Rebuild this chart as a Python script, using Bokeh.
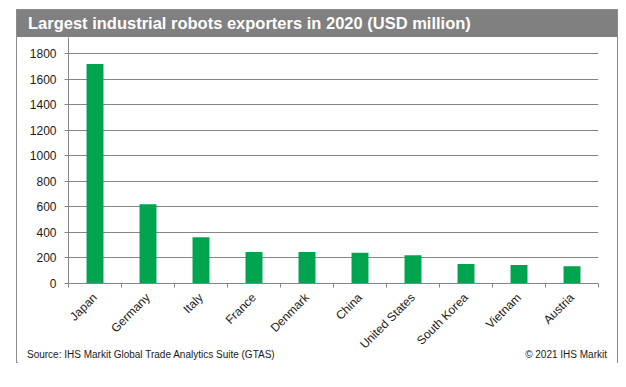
import math
from bokeh.plotting import figure
from bokeh.layouts import column
from bokeh.models import Div, FixedTicker, Range1d, ColumnDataSource
from bokeh.embed import file_html
from bokeh.resources import INLINE

countries = ["Japan", "Germany", "Italy", "France", "Denmark", "China",
             "United States", "South Korea", "Vietnam", "Austria"]
exports = [1717, 620, 362, 247, 247, 240, 222, 152, 144, 135]
y_ticks = [0, 200, 400, 600, 800, 1000, 1200, 1400, 1600, 1800]
title_text = "Largest industrial robots exporters in 2020 (USD million)"
source_text = "Source: IHS Markit Global Trade Analytics Suite (GTAS)"
copyright_text = "\u00a9 2021 IHS Markit"

FONT = "Liberation Sans"
GRID = "#868686"
GREEN = "#00A44F"
TEXT = "#1a1a1a"

centers = [i + 0.5 for i in range(len(countries))]
bounds = [float(i) for i in range(len(countries) + 1)]

src = ColumnDataSource(dict(x=centers, top=exports))

p = figure(width=600, height=332, x_range=Range1d(0, len(countries)),
           y_range=Range1d(0, 1925), output_backend="svg", toolbar_location=None,
           min_border_left=51, min_border_right=19, min_border_top=0,
           min_border_bottom=86, margin=0)
p.outline_line_color = None
p.background_fill_color = "white"
p.border_fill_color = "white"

p.vbar(x="x", top="top", width=0.32, bottom=0, source=src,
       fill_color=GREEN, line_color=None)

# y axis
p.yaxis.ticker = FixedTicker(ticks=y_ticks, minor_ticks=[])
p.yaxis.axis_line_color = GRID
p.yaxis.major_tick_line_color = GRID
p.yaxis.major_tick_out = 4
p.yaxis.major_tick_in = 0
p.yaxis.minor_tick_line_color = None
p.yaxis.major_label_text_font = FONT
p.yaxis.major_label_text_font_size = "12px"
p.yaxis.major_label_text_color = TEXT
p.yaxis.major_label_standoff = 8

p.ygrid.ticker = FixedTicker(ticks=y_ticks)
p.ygrid.grid_line_color = GRID
p.xgrid.grid_line_color = None

# x axis: labels at category centres, tick marks at category boundaries
p.xaxis.ticker = FixedTicker(ticks=centers, minor_ticks=bounds)
p.xaxis.major_label_overrides = {c: n for c, n in zip(centers, countries)}
p.xaxis.major_tick_line_color = None
p.xaxis.minor_tick_line_color = GRID
p.xaxis.minor_tick_out = 4
p.xaxis.minor_tick_in = 0
p.xaxis.axis_line_color = GRID
p.xaxis.major_label_orientation = math.pi / 4
p.xaxis.major_label_text_font = FONT
p.xaxis.major_label_text_font_size = "12px"
p.xaxis.major_label_text_color = TEXT
p.xaxis.major_label_standoff = 6

title_div = Div(
    text=(f'<div style="box-sizing:border-box;width:600px;height:27px;'
          f'line-height:27px;padding-left:11px;background:#808080;color:#ffffff;'
          f"font-family:'{FONT}';font-weight:bold;font-size:16.5px;"
          f'white-space:nowrap;">{title_text}</div>'),
    width=600, height=27, margin=0)

footer_div = Div(
    text=(f'<div style="box-sizing:border-box;width:600px;height:16px;'
          f'display:flex;justify-content:space-between;align-items:center;'
          f"padding:0 10px;font-family:'{FONT}';font-size:10px;color:{TEXT};"
          f'white-space:nowrap;"><span>{source_text}</span>'
          f'<span>{copyright_text}</span></div>'),
    width=600, height=16, margin=(-23, 0, 0, 0))

layout = column(title_div, p, footer_div, spacing=0, margin=(9, 0, 0, 16),
                styles={"border": "1px solid #8c8c8c", "background": "#ffffff"})

open("out.html", "w").write(file_html(layout, INLINE))
